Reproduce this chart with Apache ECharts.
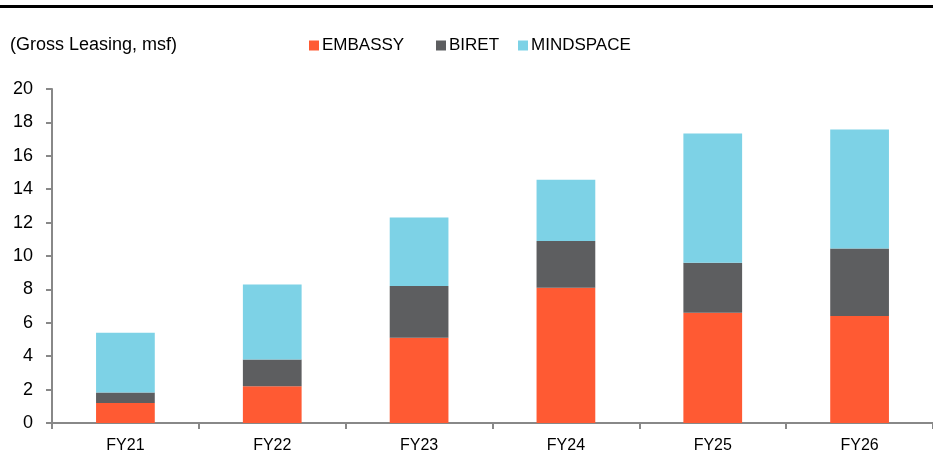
<!DOCTYPE html>
<html><head><meta charset="utf-8">
<script src="https://cdn.jsdelivr.net/npm/echarts@6/dist/echarts.min.js"></script>
<style>html,body{margin:0;padding:0;background:#fff}#c{width:933px;height:459px}</style>
</head><body><div id="c"></div>
<script>
const categories = ['FY21','FY22','FY23','FY24','FY25','FY26'];
const embassy = [1.2, 2.2, 5.1, 8.1, 6.6, 6.4];
const biret = [0.63, 1.6, 3.1, 2.8, 3.0, 4.05];
const mindspace = [3.58, 4.5, 4.1, 3.67, 7.74, 7.12];
const seriesNames = ['EMBASSY','BIRET','MINDSPACE'];
const unitLabel = '(Gross Leasing, msf)';
const FONT = '"Liberation Sans",Arial,sans-serif';
const chart = echarts.init(document.getElementById('c'), null, {renderer:'canvas'});
const mk = (name, data, color) => ({
  name, type:'bar', stack:'t', data, barWidth:'40%',
  itemStyle:{color}, emphasis:{disabled:true}
});
const legendLefts = [309, 436, 518];
chart.setOption({
  animation:false,
  textStyle:{fontFamily:FONT},
  graphic:[
    {type:'rect', shape:{x:0,y:5,width:933,height:3}, style:{fill:'#000'}},
    {type:'text', left:10, top:36, style:{text:unitLabel, font:'18px '+FONT, fill:'#000'}}
  ],
  legend: seriesNames.map((n,i)=>({
    left:legendLefts[i], top:37, itemWidth:10, itemHeight:10, itemGap:0,
    icon:'rect', padding:0,
    textStyle:{fontSize:17, color:'#000', fontFamily:FONT, padding:[0,0,0,-2]},
    data:[n]
  })),
  grid:{left:52, right:-7, top:89, bottom:36, containLabel:false},
  xAxis:{
    type:'category', data:categories,
    axisLine:{lineStyle:{color:'#888', width:2}},
    axisTick:{show:true, length:6, lineStyle:{color:'#888', width:2}},
    axisLabel:{fontSize:16, color:'#000', margin:15, fontFamily:FONT}
  },
  yAxis:{
    type:'value', min:0, max:20, interval:2,
    axisLine:{show:true, lineStyle:{color:'#888', width:2}},
    axisTick:{show:true, length:6, lineStyle:{color:'#888', width:2}},
    splitLine:{show:false},
    axisLabel:{fontSize:18, color:'#000', margin:19, fontFamily:FONT}
  },
  series:[
    mk(seriesNames[0], embassy, '#FF5A33'),
    mk(seriesNames[1], biret, '#5D5E60'),
    mk(seriesNames[2], mindspace, '#7DD2E6')
  ]
});
</script></body></html>
